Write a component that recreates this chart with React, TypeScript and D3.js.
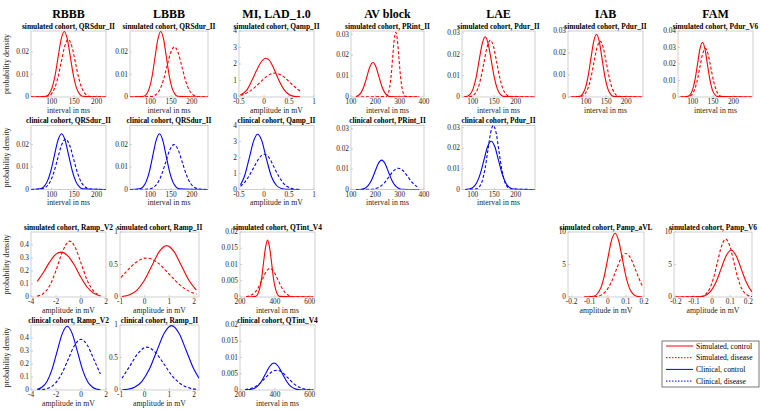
import React from "react";
import * as d3 from "d3";

const width = 760;
const height = 410;
const font = "'Liberation Serif', 'Times New Roman', serif";
const simColor = "#ff0000";
const clinColor = "#0000ff";

type Pt = [number, number];

const columns = ["RBBB", "LBBB", "MI, LAD_1.0", "AV block", "LAE", "IAB", "FAM"];
const legendLabels = ["Simulated, control", "Simulated, disease", "Clinical, control", "Clinical, disease"];

// tick values
const msTicks = [100, 150, 200];
const prTicks = [100, 200, 300, 400];
const qtTicks = [200, 400, 600];
const qampTicks = [-0.5, 0, 0.5, 1];
const rampV2Ticks = [-4, -2, 0, 2];
const rampIITicks = [-1, 0, 1, 2];
const pampTicks = [-0.2, -0.1, 0, 0.1, 0.2];
const dens2Ticks = [0, 0.01, 0.02];
const dens3Ticks = [0, 0.01, 0.02, 0.03];
const dens4Ticks = [0, 0.01, 0.02, 0.03, 0.04];
const qampYTicks = [0, 1, 2, 3, 4];
const rampV2YTicks = [0, 0.1, 0.2, 0.3, 0.4];
const rampIIYTicks = [0, 0.5, 1];
const qtYTicks = [0, 0.005, 0.01, 0.015, 0.02];
const pampYTicks = [0, 5, 10];

// RBBB, QRSdur_II
const rbbbSimCtrl: Pt[] = [[54, 0], [87, 0.0003], [94, 0.0013], [100.6, 0.0039], [107.5, 0.0094], [114.3, 0.0176], [121.2, 0.0256], [128, 0.029], [134.9, 0.0256], [141.7, 0.0176], [148.6, 0.0094], [155.4, 0.0039], [162.3, 0.0013], [169, 0.0003], [221, 0]];
const rbbbSimDis: Pt[] = [[54, 0], [90, 0.0003], [98, 0.0011], [105.8, 0.0035], [113.6, 0.0083], [121.4, 0.0155], [129.2, 0.0225], [137, 0.0255], [144.8, 0.0225], [152.6, 0.0155], [160.4, 0.0083], [168.2, 0.0035], [176, 0.0011], [184, 0.0003], [221, 0]];
const rbbbClinCtrl: Pt[] = [[54, 0], [73.7, 0.0003], [81.8, 0.0011], [89.8, 0.0034], [97.9, 0.0081], [105.9, 0.015], [114, 0.0219], [122, 0.0248], [130, 0.0219], [138.1, 0.015], [146.2, 0.0081], [154.2, 0.0034], [162.3, 0.0011], [170.3, 0.0003], [221, 0]];
const rbbbClinDis: Pt[] = [[54, 0], [77.6, 0.00025], [86.5, 0.001], [95.4, 0.003], [104.3, 0.0073], [113.2, 0.0136], [122.1, 0.0198], [131, 0.0224], [139.9, 0.0198], [148.8, 0.0136], [157.7, 0.0073], [166.6, 0.003], [175.5, 0.001], [184.4, 0.00025], [221, 0]];

// LBBB, QRSdur_II
const lbbbSimCtrl: Pt[] = [[51, 0], [84, 0.0003], [91, 0.0013], [97.6, 0.0039], [104.5, 0.0094], [111.3, 0.0176], [118.2, 0.0256], [125, 0.029], [131.9, 0.0256], [138.7, 0.0176], [145.6, 0.0094], [152.4, 0.0039], [159.3, 0.0013], [166, 0.0003], [239, 0]];
const lbbbSimDis: Pt[] = [[51, 0], [104, 0.00025], [113, 0.001], [122, 0.003], [131, 0.0072], [140, 0.0135], [149, 0.0196], [158, 0.0222], [167, 0.0196], [176, 0.0135], [185, 0.0072], [194, 0.003], [203, 0.001], [212, 0.00025], [239, 0]];
const lbbbClinCtrl: Pt[] = [[51, 0], [73.7, 0.0003], [81.8, 0.0011], [89.8, 0.0034], [97.9, 0.0081], [105.9, 0.015], [114, 0.0219], [122, 0.0248], [130, 0.0219], [138.1, 0.015], [146.2, 0.0081], [154.2, 0.0034], [162.3, 0.0011], [170.3, 0.0003], [239, 0]];
const lbbbClinDis: Pt[] = [[51, 0], [97, 0.0002], [107, 0.0009], [117, 0.0027], [127, 0.0065], [137, 0.0121], [147, 0.0177], [157, 0.02], [167, 0.0177], [177, 0.0121], [187, 0.0065], [197, 0.0027], [207, 0.0009], [217, 0.0002], [239, 0]];

// MI, Qamp_II
const miSimCtrl: Pt[] = [[-0.47, 0.12], [-0.35, 0.4], [-0.25, 0.95], [-0.15, 1.6], [-0.05, 2.15], [0.03, 2.35], [0.1, 2.25], [0.2, 1.7], [0.3, 1.0], [0.4, 0.45], [0.5, 0.15], [0.6, 0.04], [0.72, 0.01]];
const miSimDis: Pt[] = [[-0.47, 0.1], [-0.3, 0.32], [-0.15, 0.68], [0, 1.11], [0.1, 1.34], [0.22, 1.45], [0.35, 1.32], [0.5, 0.94], [0.6, 0.65], [0.72, 0.36]];
const miClinCtrl: Pt[] = [[-0.47, 0.3], [-0.4, 0.75], [-0.3, 1.9], [-0.2, 3.1], [-0.13, 3.45], [-0.05, 3.1], [0.05, 1.9], [0.15, 0.8], [0.25, 0.25], [0.35, 0.06], [0.45, 0.01], [0.72, 0]];
const miClinDis: Pt[] = [[-0.47, 0.2], [-0.35, 0.6], [-0.2, 1.4], [-0.1, 1.95], [0, 2.2], [0.1, 2.0], [0.2, 1.4], [0.3, 0.8], [0.4, 0.35], [0.5, 0.12], [0.6, 0.03], [0.72, 0.005]];

// AV block, PRint_II
const avSimCtrl: Pt[] = [[120, 0.0002], [130, 0.0007], [142, 0.0022], [154, 0.0054], [166, 0.01], [178, 0.0146], [190, 0.0165], [202, 0.0146], [214, 0.01], [226, 0.0054], [238, 0.0022], [250, 0.0007], [262, 0.0002], [380, 0]];
const avSimDis: Pt[] = [[120, 0], [245, 0.0003], [251.8, 0.0014], [258.2, 0.0042], [264.7, 0.0101], [271.1, 0.0188], [277.6, 0.0274], [284, 0.031], [290.5, 0.0274], [296.9, 0.0188], [303.4, 0.0101], [309.8, 0.0042], [316.3, 0.0014], [323, 0.0003], [380, 0]];
const avClinCtrl: Pt[] = [[120, 0], [143.5, 0.00016], [157.3, 0.00064], [171, 0.002], [184.8, 0.0047], [198.5, 0.0088], [212.3, 0.0128], [226, 0.0145], [239.8, 0.0128], [253.5, 0.0088], [267.3, 0.0047], [281, 0.002], [294.8, 0.00064], [308.5, 0.00016], [380, 0]];
const avClinDis: Pt[] = [[120, 0], [181, 0.00012], [200, 0.00046], [219, 0.0014], [238, 0.0034], [257, 0.0064], [276, 0.0093], [295, 0.0105], [314, 0.0093], [333, 0.0064], [352, 0.0034], [371, 0.0014], [380, 0.0008]];

// LAE, Pdur_II
const laeSimCtrl: Pt[] = [[80, 0], [86.7, 0.0003], [93.8, 0.0012], [100.8, 0.0038], [107.9, 0.0092], [114.9, 0.0172], [122, 0.025], [129, 0.0283], [136, 0.025], [143.1, 0.0172], [150.2, 0.0092], [157.2, 0.0038], [164.3, 0.0012], [171.3, 0.0003], [245, 0]];
const laeSimDis: Pt[] = [[80, 0], [96.3, 0.0003], [103.8, 0.0012], [111.2, 0.0036], [118.7, 0.0087], [126.1, 0.0162], [133.6, 0.0236], [141, 0.0267], [148.5, 0.0236], [155.9, 0.0162], [163.4, 0.0087], [170.8, 0.0036], [178.3, 0.0012], [185.7, 0.0003], [245, 0]];
const laeClinCtrl: Pt[] = [[82, 0], [92, 0.00026], [100.5, 0.001], [109, 0.0032], [117.5, 0.0076], [126, 0.0142], [134.5, 0.0207], [143, 0.0234], [151.5, 0.0207], [160, 0.0142], [168.5, 0.0076], [177, 0.0032], [185.5, 0.001], [194, 0.00026], [245, 0]];
const laeClinDis: Pt[] = [[82, 0], [109.3, 0.0003], [115.8, 0.0014], [122.2, 0.0042], [128.7, 0.0101], [135.1, 0.0188], [141.6, 0.0274], [148, 0.031], [154.5, 0.0274], [160.9, 0.0188], [167.4, 0.0101], [173.8, 0.0042], [180.3, 0.0014], [186.7, 0.0003], [245, 0]];

// IAB, Pdur_II
const iabSimCtrl: Pt[] = [[62, 0], [84, 0.0003], [91, 0.0013], [98, 0.0039], [105, 0.0093], [112, 0.0173], [119, 0.0252], [126, 0.0285], [133, 0.0252], [140, 0.0173], [147, 0.0093], [154, 0.0039], [161, 0.0013], [168, 0.0003], [240, 0]];
const iabSimDis: Pt[] = [[62, 0], [87.9, 0.0003], [95.8, 0.0011], [103.6, 0.0034], [111.5, 0.0082], [119.3, 0.0154], [127.2, 0.0224], [135, 0.0254], [142.9, 0.0224], [150.7, 0.0154], [158.6, 0.0082], [166.4, 0.0034], [174.3, 0.0011], [182, 0.0003], [240, 0]];

// FAM, Pdur_V6
const famSimCtrl: Pt[] = [[70, 0], [88, 0.0004], [94, 0.0015], [100, 0.0045], [106, 0.0108], [112, 0.0201], [118, 0.0293], [124, 0.0332], [130, 0.0293], [136, 0.0201], [142, 0.0108], [148, 0.0045], [154, 0.0015], [160, 0.0004], [245, 0]];
const famSimDis: Pt[] = [[70, 0], [90.5, 0.0003], [97.3, 0.0013], [104, 0.004], [110.8, 0.0096], [117.5, 0.0179], [124.3, 0.026], [131, 0.0295], [137.8, 0.026], [144.5, 0.0179], [151.3, 0.0096], [158, 0.004], [164.8, 0.0013], [171.5, 0.0003], [245, 0]];

// RBBB, Ramp_V2
const rampV2SimCtrl: Pt[] = [[-3.5, 0.12], [-3, 0.19], [-2.5, 0.27], [-2, 0.33], [-1.6, 0.345], [-1, 0.31], [-0.5, 0.24], [0, 0.15], [0.5, 0.075], [1, 0.03], [1.55, 0.008]];
const rampV2SimDis: Pt[] = [[-3.5, 0.007], [-3, 0.028], [-2.5, 0.088], [-2, 0.204], [-1.5, 0.344], [-0.9, 0.43], [-0.4, 0.368], [0, 0.261], [0.5, 0.128], [1, 0.047], [1.55, 0.011]];
const rampV2ClinCtrl: Pt[] = [[-3.5, 0.006], [-3.13, 0.0215], [-2.72, 0.066], [-2.315, 0.159], [-1.91, 0.297], [-1.505, 0.432], [-1.1, 0.49], [-0.695, 0.432], [-0.29, 0.297], [0.115, 0.159], [0.52, 0.066], [0.925, 0.0215], [1.33, 0.0054], [1.55, 0.0015]];
const rampV2ClinDis: Pt[] = [[-3.5, 0.0011], [-3.06, 0.0043], [-2.55, 0.017], [-2.04, 0.053], [-1.53, 0.127], [-1.02, 0.237], [-0.51, 0.344], [0, 0.39], [0.51, 0.344], [1.02, 0.237], [1.55, 0.123]];

// LBBB, Ramp_II
const rampIISimCtrl: Pt[] = [[-0.92, 0.008], [-0.61, 0.035], [-0.31, 0.107], [-0.01, 0.257], [0.29, 0.479], [0.59, 0.697], [0.89, 0.79], [1.19, 0.697], [1.49, 0.479], [1.79, 0.257], [2.09, 0.107]];
const rampIISimDis: Pt[] = [[-0.96, 0.3], [-0.72, 0.4], [-0.36, 0.53], [0.08, 0.6], [0.52, 0.53], [0.96, 0.364], [1.4, 0.195], [1.84, 0.081], [2.1, 0.043]];
const rampIIClinCtrl: Pt[] = [[-0.9, 0.004], [-0.71, 0.011], [-0.41, 0.043], [-0.11, 0.134], [0.19, 0.322], [0.49, 0.6], [0.79, 0.874], [1.09, 0.99], [1.39, 0.874], [1.69, 0.6], [1.99, 0.322], [2.2, 0.18]];
const rampIIClinDis: Pt[] = [[-0.92, 0.18], [-0.6, 0.37], [-0.3, 0.55], [0.08, 0.66], [0.43, 0.58], [0.78, 0.4], [1.13, 0.21], [1.48, 0.089], [1.83, 0.029], [2.1, 0.01]];

// MI, QTint_V4
const qtSimCtrl: Pt[] = [[235, 0], [290, 0.0002], [312, 0.0024], [324, 0.0057], [335, 0.0106], [347, 0.0154], [358, 0.0175], [369, 0.0154], [381, 0.0106], [392, 0.0057], [404, 0.0024], [426, 0.0002], [620, 0]];
const qtSimDis: Pt[] = [[235, 0.0001], [282, 0.0012], [304.5, 0.00286], [327, 0.00534], [349.5, 0.00777], [372, 0.0088], [394.5, 0.00777], [417, 0.00534], [439.5, 0.00286], [462, 0.0012], [484.5, 0.00039], [507, 0.0001], [620, 0]];
const qtClinCtrl: Pt[] = [[230, 0], [251, 0.0001], [275, 0.00036], [299, 0.0011], [323, 0.0027], [347, 0.005], [371, 0.0073], [395, 0.0083], [419, 0.0073], [443, 0.005], [467, 0.0027], [491, 0.0011], [515, 0.00036], [539, 0.0001], [620, 0]];
const qtClinDis: Pt[] = [[230, 0.00013], [280, 0.00083], [312.5, 0.00198], [345, 0.0037], [377.5, 0.00538], [410, 0.0061], [442.5, 0.00538], [475, 0.0037], [507.5, 0.00198], [540, 0.00083], [572.5, 0.00027], [620, 0.00003]];

// IAB, Pamp_aVL
const pavlSimCtrl: Pt[] = [[-0.13, 0], [-0.08, 0.11], [-0.04, 1.33], [-0.02, 3.18], [0, 5.94], [0.02, 8.65], [0.04, 9.8], [0.06, 8.65], [0.08, 5.94], [0.1, 3.18], [0.12, 1.33], [0.14, 0.43], [0.16, 0.11], [0.19, 0.01]];
const pavlSimDis: Pt[] = [[-0.13, 0], [-0.065, 0.074], [-0.0375, 0.29], [-0.01, 0.91], [0.0175, 2.18], [0.045, 4.06], [0.0725, 5.91], [0.1, 6.7], [0.1275, 5.91], [0.155, 4.06], [0.1825, 2.18], [0.19, 1.74]];

// FAM, Pamp_V6
const pv6SimCtrl: Pt[] = [[-0.2, 0], [-0.06, 0.08], [-0.035, 0.28], [-0.005, 0.97], [0.0225, 2.34], [0.05, 4.37], [0.0775, 6.35], [0.105, 7.2], [0.1325, 6.35], [0.16, 4.37], [0.1875, 2.34], [0.215, 0.97], [0.22, 0.8]];
const pv6SimDis: Pt[] = [[-0.2, 0], [-0.06, 0.1], [-0.015, 1.2], [0.0075, 2.89], [0.03, 5.4], [0.0525, 7.85], [0.075, 8.9], [0.0975, 7.85], [0.12, 5.4], [0.1425, 2.89], [0.165, 1.2], [0.21, 0.1], [0.22, 0.05]];

// layout (pixels)
const rowBox: [number, number][] = [[31, 97], [125.5, 189.5], [232, 297], [325, 390]];
const boxW = 75;

type Panel = {
  row: number; left: number; w?: number; title: string; xLabel: string;
  xDomain: [number, number]; yDomain: [number, number]; xTicks: number[]; yTicks: number[];
  ctrl: Pt[]; dis: Pt[]; clinical: boolean;
};

const ms = "interval in ms";
const mv = "amplitude in mV";

const panels: Panel[] = [
  { row: 0, left: 31, title: "simulated cohort, QRSdur_II", xLabel: ms, xDomain: [54, 221], yDomain: [0, 0.0292], xTicks: msTicks, yTicks: dens2Ticks, ctrl: rbbbSimCtrl, dis: rbbbSimDis, clinical: false },
  { row: 0, left: 130, w: 78, title: "simulated cohort, QRSdur_II", xLabel: ms, xDomain: [51, 239], yDomain: [0, 0.0292], xTicks: msTicks, yTicks: dens2Ticks, ctrl: lbbbSimCtrl, dis: lbbbSimDis, clinical: false },
  { row: 0, left: 239, title: "simulated cohort, Qamp_II", xLabel: mv, xDomain: [-0.5, 1], yDomain: [0, 4], xTicks: qampTicks, yTicks: qampYTicks, ctrl: miSimCtrl, dis: miSimDis, clinical: false },
  { row: 0, left: 351, w: 73, title: "simulated cohort, PRint_II", xLabel: ms, xDomain: [100, 400], yDomain: [0, 0.0316], xTicks: prTicks, yTicks: dens3Ticks, ctrl: avSimCtrl, dis: avSimDis, clinical: false },
  { row: 0, left: 462, w: 73, title: "simulated cohort, Pdur_II", xLabel: ms, xDomain: [75, 245], yDomain: [0, 0.031], xTicks: msTicks, yTicks: dens3Ticks, ctrl: laeSimCtrl, dis: laeSimDis, clinical: false },
  { row: 0, left: 568, title: "simulated cohort, Pdur_II", xLabel: ms, xDomain: [55, 242], yDomain: [0, 0.03], xTicks: msTicks, yTicks: dens3Ticks, ctrl: iabSimCtrl, dis: iabSimDis, clinical: false },
  { row: 0, left: 678, title: "simulated cohort, Pdur_V6", xLabel: ms, xDomain: [64, 248], yDomain: [0, 0.04], xTicks: msTicks, yTicks: dens4Ticks, ctrl: famSimCtrl, dis: famSimDis, clinical: false },

  { row: 1, left: 31, title: "clinical cohort, QRSdur_II", xLabel: ms, xDomain: [54, 221], yDomain: [0, 0.0285], xTicks: msTicks, yTicks: dens2Ticks, ctrl: rbbbClinCtrl, dis: rbbbClinDis, clinical: true },
  { row: 1, left: 130, w: 78, title: "clinical cohort, QRSdur_II", xLabel: ms, xDomain: [51, 239], yDomain: [0, 0.0285], xTicks: msTicks, yTicks: dens2Ticks, ctrl: lbbbClinCtrl, dis: lbbbClinDis, clinical: true },
  { row: 1, left: 239, title: "clinical cohort, Qamp_II", xLabel: mv, xDomain: [-0.5, 1], yDomain: [0, 4], xTicks: qampTicks, yTicks: qampYTicks, ctrl: miClinCtrl, dis: miClinDis, clinical: true },
  { row: 1, left: 351, w: 73, title: "clinical cohort, PRint_II", xLabel: ms, xDomain: [100, 400], yDomain: [0, 0.0316], xTicks: prTicks, yTicks: dens3Ticks, ctrl: avClinCtrl, dis: avClinDis, clinical: true },
  { row: 1, left: 462, w: 73, title: "clinical cohort, Pdur_II", xLabel: ms, xDomain: [75, 245], yDomain: [0, 0.031], xTicks: msTicks, yTicks: dens3Ticks, ctrl: laeClinCtrl, dis: laeClinDis, clinical: true },

  { row: 2, left: 31, title: "simulated cohort, Ramp_V2", xLabel: mv, xDomain: [-4, 2], yDomain: [0, 0.5], xTicks: rampV2Ticks, yTicks: rampV2YTicks, ctrl: rampV2SimCtrl, dis: rampV2SimDis, clinical: false },
  { row: 2, left: 120, w: 79, title: "simulated cohort, Ramp_II", xLabel: mv, xDomain: [-1, 2.2], yDomain: [0, 1], xTicks: rampIITicks, yTicks: rampIIYTicks, ctrl: rampIISimCtrl, dis: rampIISimDis, clinical: false },
  { row: 2, left: 240, title: "simulated cohort, QTint_V4", xLabel: ms, xDomain: [200, 630], yDomain: [0, 0.02], xTicks: qtTicks, yTicks: qtYTicks, ctrl: qtSimCtrl, dis: qtSimDis, clinical: false },
  { row: 2, left: 568, w: 76, title: "simulated cohort, Pamp_aVL", xLabel: mv, xDomain: [-0.22, 0.2], yDomain: [0, 10], xTicks: pampTicks, yTicks: pampYTicks, ctrl: pavlSimCtrl, dis: pavlSimDis, clinical: false },
  { row: 2, left: 674, w: 78, title: "simulated cohort, Pamp_V6", xLabel: mv, xDomain: [-0.21, 0.22], yDomain: [0, 10], xTicks: pampTicks, yTicks: pampYTicks, ctrl: pv6SimCtrl, dis: pv6SimDis, clinical: false },

  { row: 3, left: 31, title: "clinical cohort, Ramp_V2", xLabel: mv, xDomain: [-4, 2], yDomain: [0, 0.5], xTicks: rampV2Ticks, yTicks: rampV2YTicks, ctrl: rampV2ClinCtrl, dis: rampV2ClinDis, clinical: true },
  { row: 3, left: 120, w: 79, title: "clinical cohort, Ramp_II", xLabel: mv, xDomain: [-1, 2.2], yDomain: [0, 1], xTicks: rampIITicks, yTicks: rampIIYTicks, ctrl: rampIIClinCtrl, dis: rampIIClinDis, clinical: true },
  { row: 3, left: 240, title: "clinical cohort, QTint_V4", xLabel: ms, xDomain: [200, 630], yDomain: [0, 0.02], xTicks: qtTicks, yTicks: qtYTicks, ctrl: qtClinCtrl, dis: qtClinDis, clinical: true },
];

const colCenters = [68.5, 169, 276.5, 387.5, 498.5, 605.5, 715.5];

function PanelView({ p, idx }: { p: Panel; idx: number }) {
  const w = p.w ?? boxW;
  const [top, bottom] = rowBox[p.row];
  const x = d3.scaleLinear().domain(p.xDomain).range([p.left, p.left + w]);
  const y = d3.scaleLinear().domain(p.yDomain).range([bottom, top]);
  const line = d3
    .line<Pt>()
    .x(d => x(d[0]))
    .y(d => y(d[1]))
    .curve(d3.curveMonotoneX);
  const color = p.clinical ? clinColor : simColor;
  const clipId = `clip-${idx}`;
  const axisColor = "#c4c4c4";
  const fmt = (v: number) => String(v);

  return (
    <g>
      <clipPath id={clipId}>
        <rect x={p.left} y={top - 1} width={w} height={bottom - top + 1} />
      </clipPath>
      <rect x={p.left} y={top} width={w} height={bottom - top} fill="#fff" stroke={axisColor} strokeWidth={0.8} />
      {p.xTicks.map(t => (
        <g key={"x" + t}>
          <line x1={x(t)} x2={x(t)} y1={bottom} y2={bottom - 2} stroke={axisColor} strokeWidth={0.8} />
          <text x={x(t)} y={bottom + 7.2} fontSize={7.3} textAnchor="middle" fill="#262626">{fmt(t)}</text>
        </g>
      ))}
      {p.yTicks.map(t => (
        <g key={"y" + t}>
          <line x1={p.left} x2={p.left + 2} y1={y(t)} y2={y(t)} stroke={axisColor} strokeWidth={0.8} />
          <text x={p.left - 2} y={y(t) + 2.2} fontSize={7.3} textAnchor="end" fill="#262626">{fmt(t)}</text>
        </g>
      ))}
      <g clipPath={`url(#${clipId})`}>
        <path d={line(p.ctrl) ?? ""} fill="none" stroke={color} strokeWidth={1.1} />
        <path d={line(p.dis) ?? ""} fill="none" stroke={color} strokeWidth={1.1} strokeDasharray="3,2" />
      </g>
      <text x={p.left + w / 2} y={top - 2.5} fontSize={7.4} fontWeight="bold" textAnchor="middle" fill="#000">{p.title}</text>
      <text x={p.left + w / 2} y={bottom + 15.8} fontSize={7.8} textAnchor="middle" fill="#262626">{p.xLabel}</text>
    </g>
  );
}

function Legend() {
  const left = 662;
  const top = 341;
  const rowH = 11.7;
  const styles = [
    { color: simColor, dash: undefined },
    { color: simColor, dash: "1.5,1.5" },
    { color: clinColor, dash: undefined },
    { color: clinColor, dash: "1.5,1.5" },
  ];
  return (
    <g>
      <rect x={left} y={top} width={97} height={46} fill="#fff" stroke="#555" strokeWidth={0.8} />
      {legendLabels.map((label, i) => {
        const cy = top + 5 + i * rowH;
        return (
          <g key={label}>
            <line x1={left + 4} x2={left + 31} y1={cy} y2={cy} stroke={styles[i].color} strokeWidth={1} strokeDasharray={styles[i].dash} />
            <text x={left + 34} y={cy + 2.6} fontSize={7.6} fill="#000">{label}</text>
          </g>
        );
      })}
    </g>
  );
}

export default function App() {
  return (
    <svg width={width} height={height} style={{ position: "absolute", left: 0, top: 0, background: "#fff" }} fontFamily={font}>
      {columns.map((c, i) => (
        <text key={c} x={colCenters[i]} y={17.5} fontSize={12} fontWeight="bold" textAnchor="middle" fill="#000">{c}</text>
      ))}
      {rowBox.map(([t, b], i) => (
        <text key={"yl" + i} transform={`translate(9, ${(t + b) / 2}) rotate(-90)`} fontSize={8} textAnchor="middle" fill="#262626">probability density</text>
      ))}
      {panels.map((p, i) => (
        <PanelView key={i} p={p} idx={i} />
      ))}
      <Legend />
    </svg>
  );
}
